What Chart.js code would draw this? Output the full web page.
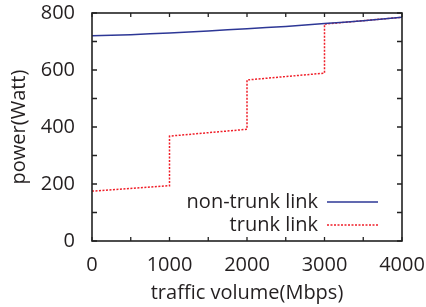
<!DOCTYPE html>
<html>
<head>
<meta charset="utf-8">
<script src="https://cdn.jsdelivr.net/npm/chart.js@4"></script>
<style>
  html, body { margin: 0; padding: 0; background: #fff; }
  #wrap { width: 426px; height: 307px; }
</style>
</head>
<body>
<div id="wrap"><canvas id="myChart"></canvas></div>
<script>
const seriesNames = ["non-trunk link", "trunk link"];

const nonTrunkX = [0, 500, 1000, 1500, 2000, 2500, 3000, 3500, 4000];
const nonTrunkY = [720, 724, 730, 737, 745, 753, 763, 773, 785];

const trunkX = [0, 1000, 1000, 2000, 2000, 3000, 3000, 3500, 4000];
const trunkY = [175, 194, 368, 392, 565, 589, 761, 773, 785];

const xTicks = [0, 1000, 2000, 3000, 4000];
const yTicks = [0, 200, 400, 600, 800];

const textColor = "#231f20";
const fontFamily = "'Open Sans', sans-serif";
const fontSize = 20;

const toPoints = (xs, ys) => xs.map((x, i) => ({ x: x, y: ys[i] }));

// box + inward ticks on all four sides
const frame = {
  id: "frame",
  afterDraw(chart) {
    const { ctx, chartArea: a, scales } = chart;
    ctx.save();
    ctx.strokeStyle = "#222";
    ctx.lineWidth = 1.3;
    for (let v = 0; v <= 4000; v += 500) {
      const px = scales.x.getPixelForValue(v);
      ctx.beginPath();
      ctx.moveTo(px, a.bottom); ctx.lineTo(px, a.bottom - 4);
      ctx.moveTo(px, a.top); ctx.lineTo(px, a.top + 4);
      ctx.stroke();
    }
    for (let v = 0; v <= 800; v += 100) {
      const py = scales.y.getPixelForValue(v);
      ctx.beginPath();
      ctx.moveTo(a.left, py); ctx.lineTo(a.left + 5, py);
      ctx.moveTo(a.right, py); ctx.lineTo(a.right - 5, py);
      ctx.stroke();
    }
    ctx.lineWidth = 1.6;
    ctx.strokeRect(a.left, a.top, a.right - a.left, a.bottom - a.top);
    ctx.restore();
  }
};

// legend inside the plot, lower right
const innerLegend = {
  id: "innerLegend",
  afterDraw(chart) {
    const { ctx, chartArea: a } = chart;
    ctx.save();
    ctx.font = fontSize + "px " + fontFamily;
    ctx.textAlign = "right";
    ctx.textBaseline = "middle";
    chart.data.datasets.forEach((ds, i) => {
      const y = a.bottom - 39 + i * 23;
      ctx.fillStyle = textColor;
      ctx.fillText(ds.label, a.right - 84, y);
      ctx.strokeStyle = ds.borderColor;
      ctx.lineWidth = ds.borderWidth;
      ctx.setLineDash(ds.borderDash || []);
      ctx.beginPath();
      ctx.moveTo(a.right - 75, y);
      ctx.lineTo(a.right - 24, y);
      ctx.stroke();
    });
    ctx.restore();
  }
};

const data = {
  datasets: [
    {
      label: seriesNames[0],
      data: toPoints(nonTrunkX, nonTrunkY),
      borderColor: "rgb(45, 55, 150)",
      borderWidth: 1.5,
      pointRadius: 0,
      tension: 0.3,
    },
    {
      label: seriesNames[1],
      data: toPoints(trunkX, trunkY),
      borderColor: "rgb(240, 30, 40)",
      borderWidth: 1.5,
      borderDash: [2, 1.5],
      pointRadius: 0,
      tension: 0,
    },
  ],
};

const config = {
  type: "line",
  data,
  options: {
    responsive: true,
    maintainAspectRatio: false,
    animation: false,
    layout: { autoPadding: false, padding: { left: 0, right: 24, top: 13, bottom: 0 } },
    plugins: { legend: { display: false }, tooltip: { enabled: false } },
    scales: {
      x: {
        type: "linear",
        min: 0,
        max: 4000,
        afterBuildTicks: (s) => { s.ticks = xTicks.map((v) => ({ value: v })); },
        afterFit: (s) => {
          s.height = 66;
          s.paddingLeft = 0;
          s.paddingRight = 0;
        },
        grid: { display: false },
        border: { display: false },
        ticks: {
          color: textColor,
          font: { size: fontSize, family: fontFamily },
          padding: 4,
          callback: (v) => String(v),
        },
        title: {
          display: true,
          text: "traffic volume(Mbps)",
          color: textColor,
          font: { size: fontSize, family: fontFamily },
          padding: { top: 0, bottom: 2 },
        },
      },
      y: {
        min: 0,
        max: 800,
        afterBuildTicks: (s) => { s.ticks = yTicks.map((v) => ({ value: v })); },
        afterFit: (s) => {
          s.width = 92;
          s.paddingTop = 0;
          s.paddingBottom = 0;
        },
        grid: { display: false },
        border: { display: false },
        ticks: {
          color: textColor,
          font: { size: fontSize, family: fontFamily },
          padding: 9,
          callback: (v) => String(v),
        },
        title: {
          display: true,
          text: "power(Watt)",
          color: textColor,
          font: { size: fontSize, family: fontFamily },
          padding: { top: 7, bottom: 2 },
        },
      },
    },
  },
  plugins: [frame, innerLegend],
};

new Chart(document.getElementById("myChart"), config);
</script>
</body>
</html>
